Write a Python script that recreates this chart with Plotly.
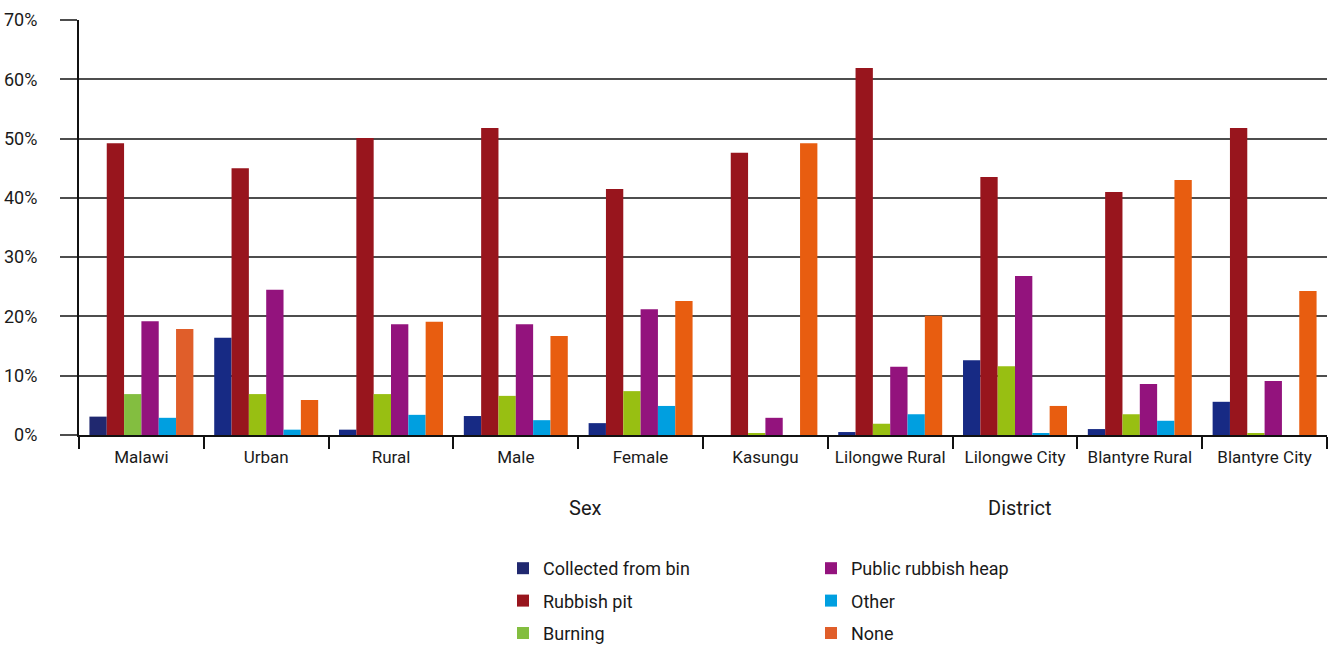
import plotly.graph_objects as go

categories = ["Malawi", "Urban", "Rural", "Male", "Female", "Kasungu",
              "Lilongwe Rural", "Lilongwe City", "Blantyre Rural", "Blantyre City"]

collected_from_bin = [3.1, 16.4, 0.9, 3.2, 2.0, 0.0, 0.5, 12.6, 1.0, 5.6]
rubbish_pit = [49.2, 45.0, 50.1, 51.8, 41.5, 47.6, 61.9, 43.5, 41.0, 51.8]
burning = [6.9, 6.9, 6.9, 6.6, 7.4, 0.3, 1.9, 11.6, 3.5, 0.3]
public_rubbish_heap = [19.2, 24.5, 18.7, 18.7, 21.2, 2.9, 11.5, 26.8, 8.6, 9.1]
other = [2.9, 0.9, 3.4, 2.5, 4.9, 0.0, 3.5, 0.3, 2.4, 0.0]
none = [17.9, 5.9, 19.1, 16.7, 22.6, 49.2, 20.1, 4.9, 43.0, 24.3]

y_ticks = [0, 10, 20, 30, 40, 50, 60, 70]
y_tick_labels = ["0%", "10%", "20%", "30%", "40%", "50%", "60%", "70%"]

FONT = "Roboto, sans-serif"

W, H = 1334, 646
L, R, T, B = 79, 7, 20, 211
PLOT_W, PLOT_H = W - L - R, H - T - B


# the national bar set is drawn in slightly different shades
def shade(national, regular):
    return [national] + [regular] * (len(categories) - 1)


series = [
    ("Collected from bin", collected_from_bin, shade("#20286F", "#172A84"), "legend"),
    ("Rubbish pit", rubbish_pit, shade("#98151D", "#98151D"), "legend"),
    ("Burning", burning, shade("#83BE40", "#98BF12"), "legend"),
    ("Public rubbish heap", public_rubbish_heap, shade("#93137D", "#93137D"), "legend2"),
    ("Other", other, shade("#009FE0", "#009FE0"), "legend2"),
    ("None", none, shade("#E05E2A", "#E85D10"), "legend2"),
]

fig = go.Figure()
for i, (name, vals, colors, leg) in enumerate(series):
    fig.add_trace(go.Bar(
        name=name, x=categories, y=vals,
        marker=dict(color=colors, line=dict(width=0)),
        legend=leg, legendgroup=f"g{i}",
        showlegend=True,
    ))

legend_style = dict(
    xanchor="left", yanchor="top", xref="container", yref="container",
    y=1 - 550 / H, orientation="v", font=dict(size=18, family=FONT, color="#1a1a1a"),
    tracegroupgap=6, bgcolor="rgba(0,0,0,0)",
)


def group_label(text, x_px):
    return dict(text=text, x=(x_px - L) / PLOT_W, y=(T + PLOT_H - 508) / PLOT_H,
                xref="paper", yref="paper", xanchor="center", yanchor="middle",
                showarrow=False, font=dict(size=20, family=FONT, color="#1a1a1a"))


fig.update_layout(
    width=W, height=H,
    margin=dict(l=L, r=R, t=T, b=B, autoexpand=False),
    plot_bgcolor="white", paper_bgcolor="white",
    barmode="group", bargap=0.167, bargroupgap=0,
    font=dict(family=FONT, size=17, color="#1a1a1a"),
    xaxis=dict(
        automargin=False,
        showline=True, linecolor="#111111", linewidth=2,
        ticks="outside", tickson="boundaries", ticklen=12, tickwidth=2,
        tickcolor="#111111", showgrid=False, ticklabelstandoff=6,
        tickfont=dict(size=17, family=FONT),
    ),
    yaxis=dict(
        automargin=False,
        range=[0, 70], tickvals=y_ticks, ticktext=y_tick_labels,
        showline=True, linecolor="#111111", linewidth=2,
        showgrid=True, gridcolor="#4d4d4d", gridwidth=1.5,
        ticks="outside", ticklen=17, tickwidth=1.5, tickcolor="#4d4d4d",
        ticklabelstandoff=19,
        tickfont=dict(size=18, family=FONT), zeroline=False,
    ),
    legend=dict(x=503 / W, **legend_style),
    legend2=dict(x=811 / W, **legend_style),
    annotations=[group_label("Sex", 585), group_label("District", 1020)],
)

fig.write_html("out.html")
